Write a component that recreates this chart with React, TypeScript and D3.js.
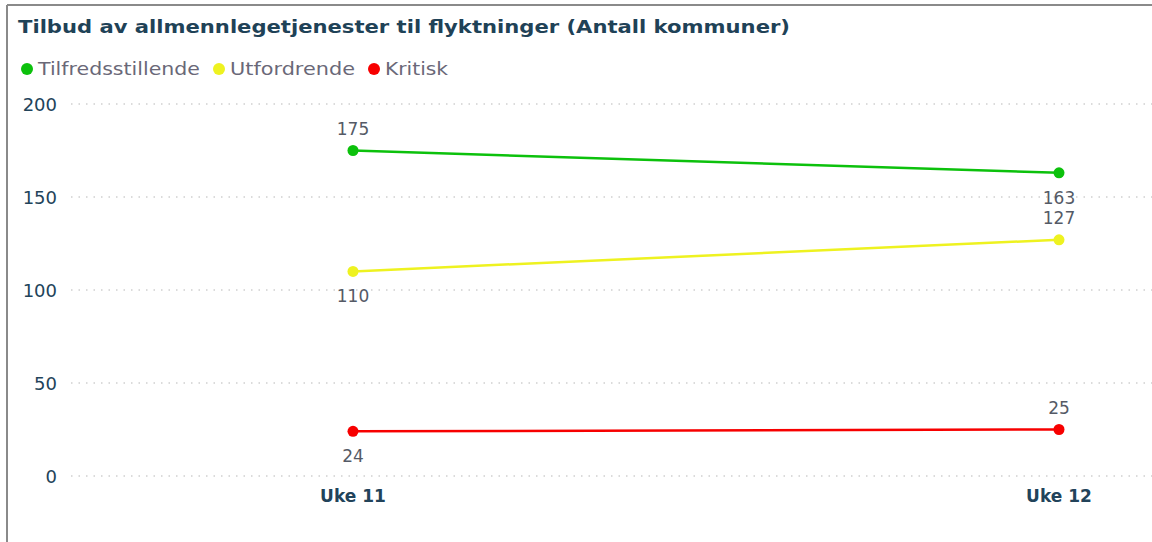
import React from "react";
import * as d3 from "d3";

const categories = ["Uke 11", "Uke 12"];
const seriesNames = ["Tilfredsstillende", "Utfordrende", "Kritisk"];
const tilfredsstillende = [175, 163];
const utfordrende = [110, 127];
const kritisk = [24, 25];
const yTicks = [0, 50, 100, 150, 200];
const colors = ["#0CC10C", "#EEF220", "#F70000"];
// label placement: -1 above, 1 below
const labelPos = [
  [-1, 1],
  [1, -1],
  [1, -1],
];

export default function App() {
  const W = 1152, H = 542;
  const x = d3.scalePoint<string>().domain(categories).range([353, 1059]);
  const y = d3.scaleLinear().domain([0, 200]).range([476, 104]);
  const series = [tilfredsstillende, utfordrende, kritisk];
  const line = d3.line<number>().x((_, i) => x(categories[i])!).y((d) => y(d));
  const font = "'DejaVu Sans', 'Noto Sans', sans-serif";
  const legendX = [27, 219, 374];
  const legendLen = [162, 125, 63];

  return (
    <svg width={W} height={H} style={{ position: "absolute", left: 0, top: 0, background: "#fff" }} fontFamily={font}>
      <rect x={0} y={0} width={W} height={H} fill="#fff" />
      <line x1={7} y1={5} x2={W} y2={5} stroke="#8a8a8a" strokeWidth={2} />
      <line x1={7} y1={5} x2={7} y2={H} stroke="#8a8a8a" strokeWidth={2} />
      <text x={18} y={33} fontSize={18} fontWeight={700} fill="#1F4257" textLength={772} lengthAdjust="spacingAndGlyphs">
        Tilbud av allmennlegetjenester til flyktninger (Antall kommuner)
      </text>
      {seriesNames.map((n, i) => (
        <g key={n}>
          <circle cx={legendX[i]} cy={69} r={6} fill={colors[i]} />
          <text x={legendX[i] + 11} y={75} fontSize={17} fill="#6a6878" textLength={legendLen[i]} lengthAdjust="spacingAndGlyphs">{n}</text>
        </g>
      ))}
      {yTicks.map((t) => (
        <g key={t}>
          <line x1={71} x2={W} y1={y(t)} y2={y(t)} stroke="#cfcfcf" strokeWidth={1.5} strokeDasharray="1.5,6" />
          <text x={57} y={y(t) + 7} fontSize={18} textAnchor="end" fill="#22435A">{t}</text>
        </g>
      ))}
      {categories.map((c) => (
        <text key={c} x={x(c)} y={502} fontSize={17} fontWeight={700} textAnchor="middle" fill="#22435A">{c}</text>
      ))}
      {series.map((s, si) => (
        <g key={si}>
          <path d={line(s) || ""} fill="none" stroke={colors[si]} strokeWidth={2.5} />
          {s.map((v, i) => (
            <g key={i}>
              <circle cx={x(categories[i])} cy={y(v)} r={5.5} fill={colors[si]} />
              <text x={x(categories[i])} y={y(v) + (labelPos[si][i] < 0 ? -16 : 31)} fontSize={17} textAnchor="middle" fill="#555a66">{v}</text>
            </g>
          ))}
        </g>
      ))}
    </svg>
  );
}
